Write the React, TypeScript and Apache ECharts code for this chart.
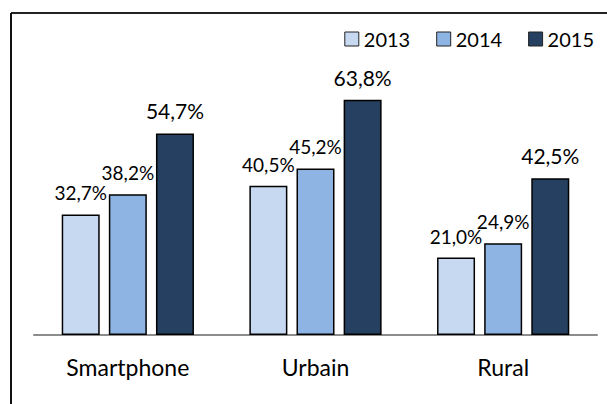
import React, { useEffect, useRef } from "react";
import * as echarts from "echarts";

const categories = ["Smartphone", "Urbain", "Rural"];
const seriesNames = ["2013", "2014", "2015"];
const values2013 = [32.7, 40.5, 21.0];
const values2014 = [38.2, 45.2, 24.9];
const values2015 = [54.7, 63.8, 42.5];
const colors = ["#C6D9F1", "#8EB4E3", "#254061"];
const FONT = "Lato";

export default function App() {
  const ref = useRef<HTMLDivElement>(null);
  useEffect(() => {
    const chart = echarts.init(ref.current!, null, { renderer: "svg" });
    const data = [values2013, values2014, values2015];
    const fmt = (p: any) => p.value.toFixed(1).replace(".", ",") + "%";
    chart.setOption({
      animation: false,
      textStyle: { fontFamily: FONT },
      legend: {
        right: 8,
        top: 24,
        itemWidth: 14,
        itemHeight: 14,
        itemGap: 26,
        icon: "rect",
        textStyle: { fontSize: 20, color: "#000", fontFamily: FONT },
        data: seriesNames.map((n, i) => ({
          name: n,
          itemStyle: { color: colors[i], borderColor: "#222", borderWidth: 1 },
        })),
      },
      grid: { left: 34, right: 10, top: 77, bottom: 69 },
      xAxis: {
        type: "category",
        data: categories,
        axisLine: { lineStyle: { color: "#8c8c8c", width: 2 } },
        axisTick: { show: false },
        axisLabel: { fontSize: 23, color: "#000", fontFamily: FONT, margin: 20 },
      },
      yAxis: {
        type: "value",
        min: 0,
        max: 70,
        show: false,
        splitLine: { show: false },
      },
      graphic: [
        { type: "line", shape: { x1: 11, y1: 13, x2: 607, y2: 13 }, style: { stroke: "#222", lineWidth: 2 } },
        { type: "line", shape: { x1: 11, y1: 13, x2: 11, y2: 404 }, style: { stroke: "#111", lineWidth: 2 } },
      ],
      series: seriesNames.map((name, i) => ({
        name,
        type: "bar",
        data: data[i],
        barWidth: 38,
        barGap: "24%",
        itemStyle: { color: colors[i], borderColor: "#000", borderWidth: 1.5 },
        label: {
          show: true,
          position: "top",
          distance: 12,
          formatter: fmt,
          color: "#000",
          fontFamily: FONT,
          fontSize: i === 2 ? 21 : 19,
        },
      })),
    });
    return () => chart.dispose();
  }, []);
  return <div ref={ref} style={{ width: 607, height: 404, position: "absolute", left: 0, top: 0 }} />;
}
